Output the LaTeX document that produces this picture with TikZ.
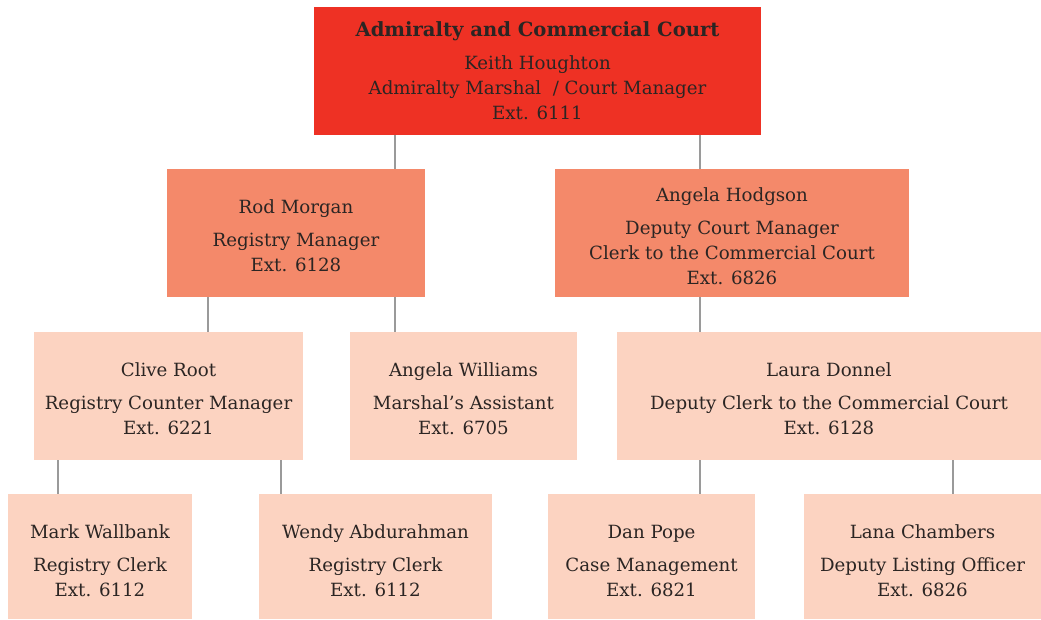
\documentclass[tikz,border=0pt]{standalone}
\usepackage{fontspec}
\setmainfont{DejaVu Serif}
\usetikzlibrary{calc}
\definecolor{courtred}{HTML}{EE3124}
\definecolor{midorange}{HTML}{F4896A}
\definecolor{palepeach}{HTML}{FCD3C1}
\definecolor{inkgrey}{HTML}{2B2523}
\definecolor{linkgrey}{HTML}{9A9A9A}
\tikzset{
  post/.style={inner sep=0pt, align=center, text=inkgrey, font=\fontsize{18.2}{25}\selectfont},
  headbox/.style={post, fill=courtred},
  midbox/.style={post, fill=midorange},
  lowbox/.style={post, fill=palepeach},
  link/.style={draw=linkgrey, line width=2.5pt}
}
\newcommand\drop[1]{\rule{0pt}{#1}}
\begin{document}
\begin{tikzpicture}[x=1pt,y=-1pt]
			%%%%% START %%%%%
			\useasboundingbox (0, 0) rectangle (1041, 619);
			
			\node[headbox, minimum width=447, minimum height=128] (court) at (537.5, 71) {{\fontsize{19.6}{25}\selectfont\textbf{Admiralty and Commercial Court}}\\[8pt]Keith Houghton\\Admiralty Marshal\ \ / Court Manager\\Ext. 6111};
			
			\node[midbox, minimum width=258, minimum height=128] (morgan) at (296, 233) {\drop{19.5pt}Rod Morgan\\[8pt]Registry Manager\\Ext. 6128};
			\node[midbox, minimum width=354, minimum height=128] (hodgson) at (732, 233) {\drop{19.5pt}Angela Hodgson\\[8pt]Deputy Court Manager\\Clerk to the Commercial Court\\Ext. 6826};
			
			\node[lowbox, minimum width=269, minimum height=128] (root) at (168.5, 396) {\drop{18.5pt}Clive Root\\[8pt]Registry Counter Manager\\Ext. 6221};
			\node[lowbox, minimum width=227, minimum height=128] (williams) at (463.5, 396) {\drop{18.5pt}Angela Williams\\[8pt]Marshal's Assistant\\Ext. 6705};
			\node[lowbox, minimum width=424, minimum height=128] (donnel) at (829, 396) {\drop{18.5pt}Laura Donnel\\[8pt]Deputy Clerk to the Commercial Court\\Ext. 6128};
			
			\node[lowbox, minimum width=184, minimum height=125] (wallbank) at (100, 556.5) {\drop{21.5pt}Mark Wallbank\\[8pt]Registry Clerk\\Ext. 6112};
			\node[lowbox, minimum width=233, minimum height=125] (abdurahman) at (375.5, 556.5) {\drop{21.5pt}Wendy Abdurahman\\[8pt]Registry Clerk\\Ext. 6112};
			\node[lowbox, minimum width=207, minimum height=125] (pope) at (651.5, 556.5) {\drop{21.5pt}Dan Pope\\[8pt]Case Management\\Ext. 6821};
			\node[lowbox, minimum width=237, minimum height=125] (chambers) at (922.5, 556.5) {\drop{21.5pt}Lana Chambers\\[8pt]Deputy Listing Officer\\Ext. 6826};
			
			\draw[link] (court.south -| 395,0) -- (morgan.north -| 395,0);
			\draw[link] (court.south -| 700,0) -- (hodgson.north -| 700,0);
			\draw[link] (morgan.south -| 208,0) -- (root.north -| 208,0);
			\draw[link] (morgan.south -| 395,0) -- (williams.north -| 395,0);
			\draw[link] (hodgson.south -| 700,0) -- (donnel.north -| 700,0);
			\draw[link] (root.south -| 58,0) -- (wallbank.north -| 58,0);
			\draw[link] (root.south -| 281,0) -- (abdurahman.north -| 281,0);
			\draw[link] (donnel.south -| 700,0) -- (pope.north -| 700,0);
			\draw[link] (donnel.south -| 953,0) -- (chambers.north -| 953,0);
			
			%%%%% END %%%%%
\end{tikzpicture}
\end{document}
